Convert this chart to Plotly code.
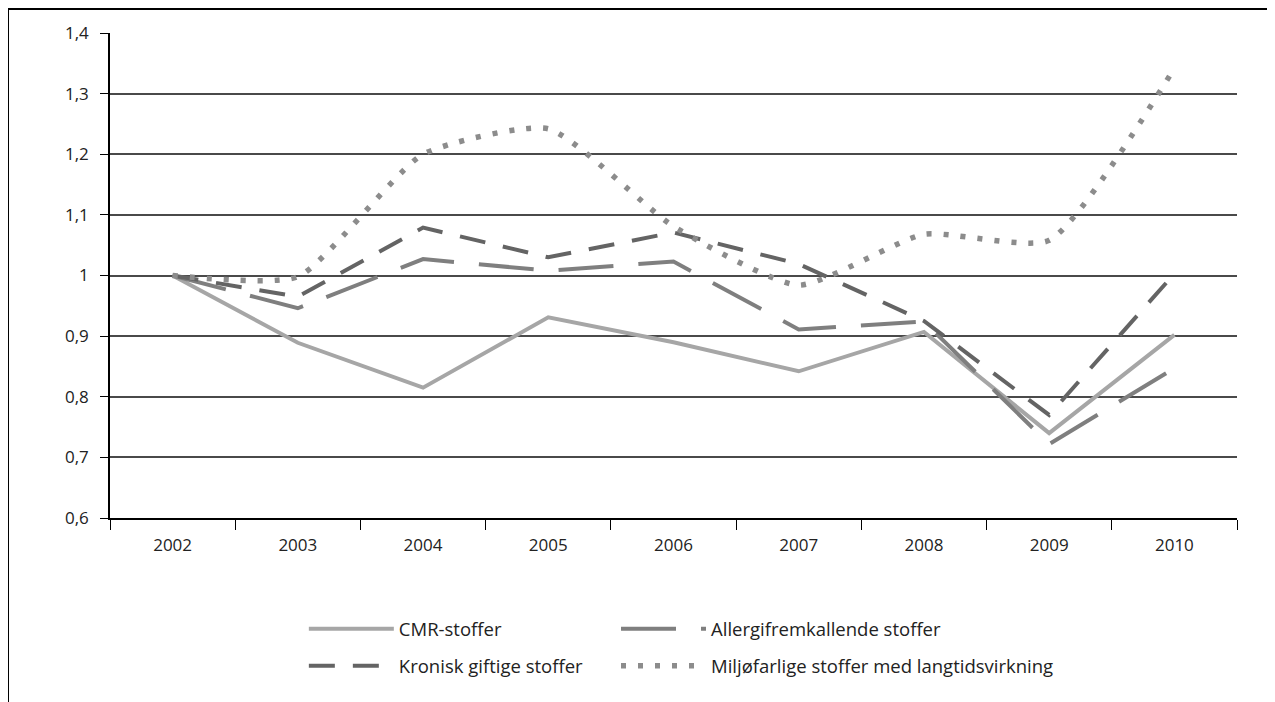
import plotly.graph_objects as go

years = ["2002", "2003", "2004", "2005", "2006", "2007", "2008", "2009", "2010"]

cmr = [1.0, 0.889, 0.815, 0.931, 0.890, 0.842, 0.907, 0.740, 0.902]
allergi = [1.0, 0.946, 1.027, 1.008, 1.023, 0.911, 0.924, 0.722, 0.847]
kronisk = [1.0, 0.965, 1.079, 1.030, 1.071, 1.019, 0.925, 0.770, 1.003]
miljo = [1.0, 0.998, 1.200, 1.242, 1.081, 0.984, 1.068, 1.058, 1.342]

names = ["CMR-stoffer", "Allergifremkallende stoffer",
         "Kronisk giftige stoffer", "Miljøfarlige stoffer med langtidsvirkning"]

fig = go.Figure()

# left legend column: CMR + Kronisk, right column: Allergi + Miljø
fig.add_trace(go.Scatter(x=years, y=cmr, name=names[0], mode="lines",
                         legend="legend", legendgroup="a",
                         line=dict(color="#a6a6a6", width=4)))
fig.add_trace(go.Scatter(x=years, y=allergi, name=names[1], mode="lines",
                         legend="legend2", legendgroup="b",
                         line=dict(color="#7f7f7f", width=4, dash="55px,25px")))
fig.add_trace(go.Scatter(x=years, y=kronisk, name=names[2], mode="lines",
                         legend="legend", legendgroup="c",
                         line=dict(color="#646464", width=4, dash="26px,18px")))
fig.add_trace(go.Scatter(x=years, y=miljo, name=names[3], mode="lines",
                         legend="legend2", legendgroup="d",
                         line=dict(color="#8c8c8c", width=5.5, dash="5px,12px",
                                   shape="spline", smoothing=0.55)))

# frame round the figure (top and left edges only, as in the source)
frame = dict(color="black", width=2)
fig.add_shape(type="line", xref="paper", yref="paper",
              x0=-0.0905, x1=1.05, y0=1.0495, y1=1.0495, line=frame)
fig.add_shape(type="line", xref="paper", yref="paper",
              x0=-0.0905, x1=-0.0905, y0=1.0495, y1=-0.42, line=frame)

leg = dict(orientation="v", yanchor="top", xanchor="left",
           itemwidth=85, tracegroupgap=10, traceorder="grouped",
           font=dict(size=18.5), bgcolor="rgba(0,0,0,0)")

fig.update_layout(
    width=1275, height=702,
    margin=dict(l=102, r=46, t=25, b=192),
    paper_bgcolor="white", plot_bgcolor="white",
    separators=", ",
    font=dict(family="Open Sans", size=17, color="#222"),
    showlegend=True,
    legend=dict(leg, x=0.172, y=-0.19),
    legend2=dict(leg, x=0.449, y=-0.19),
    xaxis=dict(type="category", range=[-0.5, 8.5], showline=True,
               linecolor="black", linewidth=1.5,
               ticks="outside", tickson="boundaries", ticklen=10,
               tickcolor="black", showgrid=False, ticklabelstandoff=11),
    yaxis=dict(range=[0.6, 1.4], dtick=0.1, showline=True, linecolor="black",
               linewidth=1.5, ticks="outside", ticklen=8, tickcolor="black",
               showgrid=True, gridcolor="#4a4a4a", gridwidth=1.5,
               zeroline=False, ticklabelstandoff=8),
)

fig.write_html("out.html")
